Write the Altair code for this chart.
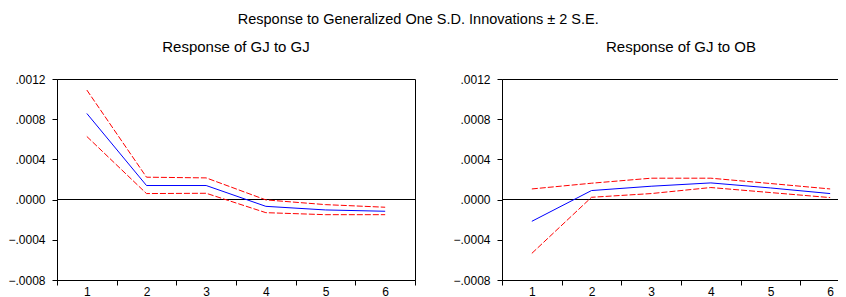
import altair as alt
import pandas as pd

horizon = [1, 2, 3, 4, 5, 6]

gj_gj_resp = [0.000857, 0.000140, 0.000140, -0.000067, -0.000103, -0.000116]
gj_gj_upper = [0.001090, 0.000223, 0.000216, -0.000003, -0.000050, -0.000076]
gj_gj_lower = [0.000628, 0.000060, 0.000063, -0.000130, -0.000150, -0.000150]

gj_ob_resp = [-0.000216, 0.000090, 0.000133, 0.000166, 0.000116, 0.000060]
gj_ob_upper = [0.000106, 0.000163, 0.000213, 0.000213, 0.000160, 0.000106]
gj_ob_lower = [-0.000535, 0.000023, 0.000060, 0.000120, 0.000070, 0.000020]

panel_titles = ["Response of GJ to GJ", "Response of GJ to OB"]
y_ticks = [-0.0008, -0.0004, 0.0, 0.0004, 0.0008, 0.0012]

FONT = "Liberation Sans"


def make_df(resp, upper, lower):
    rows = []
    for name, vals in (("resp", resp), ("upper", upper), ("lower", lower)):
        for h, v in zip(horizon, vals):
            rows.append({"h": h, "value": v, "series": name})
    return pd.DataFrame(rows)


def panel(df, title, width):
    x = alt.X(
        "h:O",
        bandPosition=0.5,
        scale=alt.Scale(type="band", paddingInner=0, paddingOuter=0),
        axis=alt.Axis(title=None, labelAngle=0, tickBand="extent", labelPadding=1),
    )
    y = alt.Y(
        "value:Q",
        scale=alt.Scale(domain=[-0.0008, 0.0012], nice=False, zero=False),
        axis=alt.Axis(
            title=None,
            values=y_ticks,
            labelExpr="replace(format(datum.value, '.4f'), '0.', '.')",
            labelPadding=7,
        ),
    )
    base = alt.Chart(df)
    zero = base.mark_rule(color="black", strokeWidth=1, yOffset=-0.1).encode(
        y=alt.datum(0)
    )
    bands = (
        base.transform_filter("datum.series != 'resp'")
        .mark_line(color="#FF0000", strokeWidth=1, strokeDash=[6, 2])
        .encode(x=x, y=y, detail="series:N")
    )
    resp = (
        base.transform_filter("datum.series == 'resp'")
        .mark_line(color="#0000FF", strokeWidth=1)
        .encode(x=x, y=y)
    )
    return alt.layer(zero, bands, resp).properties(
        width=width,
        height=201,
        title=alt.TitleParams(
            title, font=FONT, fontSize=15, fontWeight="normal", color="black", offset=18
        ),
    )


left = panel(make_df(gj_gj_resp, gj_gj_upper, gj_gj_lower), panel_titles[0], 358)
right = panel(make_df(gj_ob_resp, gj_ob_upper, gj_ob_lower), panel_titles[1], 358)

chart = (
    alt.hconcat(left, right, spacing=36)
    .properties(
        title=alt.TitleParams(
            "Response to Generalized One S.D. Innovations \u00b1 2 S.E.",
            font=FONT,
            fontSize=14.5,
            fontWeight="normal",
            color="black",
            anchor="middle",
            dx=-16,
            offset=12,
        ),
        autosize=alt.AutoSizeParams(type="none"),
        padding={"left": 49, "top": 71, "right": 781, "bottom": 218},
    )
    .configure_view(stroke="black", strokeWidth=1)
    .configure_axis(
        grid=False,
        domainColor="black",
        tickColor="black",
        tickSize=5,
        labelFont=FONT,
        labelFontSize=12,
        labelColor="black",
        domainWidth=1,
    )
)

chart.save("out.html", embed_options={"renderer": "svg", "actions": False})
